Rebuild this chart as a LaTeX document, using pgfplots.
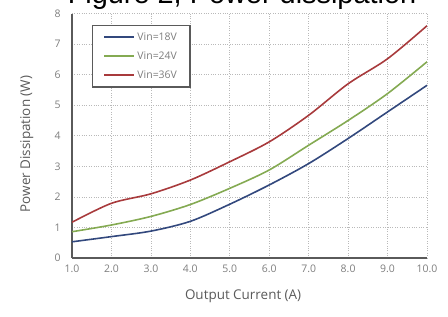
\documentclass[border=0pt]{standalone}
\usepackage{fontspec}
\setmainfont{Open Sans}
\newfontfamily\arial{Liberation Sans}
\usepackage{pgfplots}
\pgfplotsset{compat=1.18}
\definecolor{c18}{RGB}{50,72,125}
\definecolor{c24}{RGB}{132,170,82}
\definecolor{c36}{RGB}{168,58,60}
\definecolor{axgray}{RGB}{90,90,90}
\definecolor{tickgray}{RGB}{125,125,125}
\definecolor{gridgray}{RGB}{185,185,185}
\begin{document}
\begin{tikzpicture}[x=1bp,y=1bp]
\useasboundingbox (0,0) rectangle (448,316);
\begin{axis}[
  at={(72bp,58bp)}, anchor=south west,
  scale only axis, width=355bp, height=244.5bp,
  xmin=1, xmax=10, ymin=0, ymax=8,
  xtick={1,2,3,4,5,6,7,8,9,10},
  ytick={0,1,2,3,4,5,6,7,8},
  axis x line*=bottom, axis y line*=left,
  axis line style={draw=axgray, line width=1.4pt, -},
  major tick length=0pt,
  grid=major,
  major grid style={draw=gridgray, dotted, line width=0.7pt},
  /pgf/number format/assume math mode=true,
  xticklabel={\pgfmathprintnumber[fixed,fixed zerofill,precision=1]{\tick}},
  yticklabel={\pgfmathprintnumber[fixed,precision=0]{\tick}},
  tick label style={font=\fontsize{10.5}{12}\selectfont, text=tickgray},
  xticklabel style={yshift=-3bp},
  yticklabel style={xshift=-8bp},
  xlabel={Output Current (A)},
  ylabel={Power Dissipation (W)},
  label style={font=\fontsize{13.5}{15}\selectfont, text=axgray},
  xlabel style={at={(axis description cs:0.482,-0.155)}, anchor=center},
  ylabel style={at={(axis description cs:-0.127,0.466)}, anchor=center},
  legend style={at={(axis description cs:0.056,0.953)}, anchor=north west,
    draw=axgray, line width=1.2pt, fill=white,
    font=\fontsize{10.5}{12}\selectfont, text=tickgray,
    inner xsep=11bp, inner ysep=5bp, row sep=6bp},
  legend cell align=left,
  legend image code/.code={\draw[#1, line width=2pt] (0bp,0bp) -- (30bp,0bp);},
  every axis plot/.append style={line width=1.6pt, smooth, no marks},
]
\addplot[c18] coordinates {(1,0.53) (2,0.70) (3,0.88) (4,1.2) (5,1.76) (6,2.39) (7,3.09) (8,3.91) (9,4.78) (10,5.65)};
\addlegendentry{Vin=18V}
\addplot[c24] coordinates {(1,0.86) (2,1.08) (3,1.36) (4,1.75) (5,2.28) (6,2.88) (7,3.69) (8,4.5) (9,5.38) (10,6.42)};
\addlegendentry{Vin=24V}
\addplot[c36] coordinates {(1,1.17) (2,1.79) (3,2.1) (4,2.55) (5,3.15) (6,3.8) (7,4.67) (8,5.7) (9,6.52) (10,7.6)};
\addlegendentry{Vin=36V}
\end{axis}
\node[anchor=base, font=\arial\fontsize{29}{30}\selectfont] at (242bp,312bp) {Figure 2, Power dissipation};
\end{tikzpicture}
\end{document}
